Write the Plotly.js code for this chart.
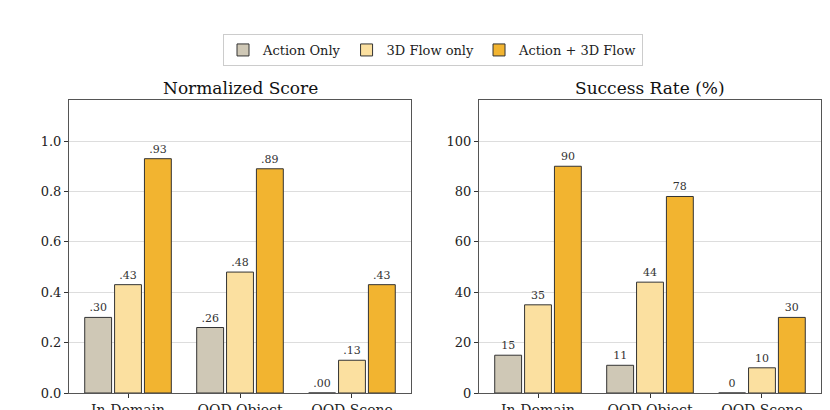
<!DOCTYPE html>
<html>
<head>
<meta charset="utf-8">
<script src="https://cdn.plot.ly/plotly-3.0.1.min.js"></script>
<style>html,body{margin:0;padding:0;background:#fff;}#chart{width:830px;height:410px;}</style>
</head>
<body>
<div id="chart"></div>
<script>
// Evaluation settings
const categories = ["In-Domain", "OOD Object", "OOD Scene"];
const seriesNames = ["Action Only", "3D Flow only", "Action + 3D Flow"];

// Normalized score per setting
const scoreActionOnly = [0.30, 0.26, 0.00];
const scoreFlowOnly = [0.43, 0.48, 0.13];
const scoreActionFlow = [0.93, 0.89, 0.43];

// Success rate (%) per setting
const successActionOnly = [15, 11, 0];
const successFlowOnly = [35, 44, 10];
const successActionFlow = [90, 78, 30];

const scoreTicks = [0.0, 0.2, 0.4, 0.6, 0.8, 1.0];
const successTicks = [0, 20, 40, 60, 80, 100];

const colors = ["#cfc8b6", "#fbe0a0", "#f2b430"];
const FONT = "DejaVu Serif, serif";

const fmtScore = v => v.toFixed(2).replace(/^0/, "");
const fmtPct = v => String(Math.round(v));

function barTrace(name, values, idx, axis, fmt, showLegend) {
  return {
    type: "bar",
    name: name,
    x: categories,
    y: values,
    xaxis: axis === 1 ? "x" : "x2",
    yaxis: axis === 1 ? "y" : "y2",
    marker: { color: colors[idx], line: { color: "#333333", width: 1 } },
    text: values.map(fmt),
    textposition: "outside",
    textfont: { family: FONT, size: 11, color: "#333333" },
    cliponaxis: false,
    showlegend: showLegend,
    legendgroup: name,
    hoverinfo: "skip"
  };
}

const data = [
  barTrace(seriesNames[0], scoreActionOnly, 0, 1, fmtScore, true),
  barTrace(seriesNames[1], scoreFlowOnly, 1, 1, fmtScore, true),
  barTrace(seriesNames[2], scoreActionFlow, 2, 1, fmtScore, true),
  barTrace(seriesNames[0], successActionOnly, 0, 2, fmtPct, false),
  barTrace(seriesNames[1], successFlowOnly, 1, 2, fmtPct, false),
  barTrace(seriesNames[2], successActionFlow, 2, 2, fmtPct, false)
];

const W = 830, H = 410;
const px = v => v / W;
const py = v => 1 - v / H;

function xAxis(domain, anchor) {
  return {
    domain: domain, anchor: anchor,
    type: "category",
    range: [-0.527, 2.527],
    showgrid: false,
    showline: true, mirror: true, linecolor: "#555555", linewidth: 1,
    ticks: "outside", ticklen: 4, tickcolor: "#333333",
    tickfont: { family: FONT, size: 14, color: "#222222" },
    zeroline: false, fixedrange: true
  };
}
function yAxis(domain, anchor, ticks, range, fmt) {
  return {
    domain: domain, anchor: anchor,
    range: range,
    tickvals: ticks,
    ticktext: ticks.map(fmt),
    showgrid: true, gridcolor: "#dddddd", gridwidth: 1,
    showline: true, mirror: true, linecolor: "#555555", linewidth: 1,
    ticks: "outside", ticklen: 4, tickcolor: "#333333",
    tickfont: { family: FONT, size: 13, color: "#222222" },
    zeroline: false, fixedrange: true
  };
}

const yDom = [py(393), py(100)];

const layout = {
  width: W, height: H,
  margin: { l: 0, r: 0, t: 0, b: 0 },
  paper_bgcolor: "#ffffff",
  plot_bgcolor: "#ffffff",
  barmode: "group",
  bargap: 0.2,
  bargroupgap: 0.1,
  font: { family: FONT, color: "#222222" },
  xaxis: xAxis([px(69), px(411)], "y"),
  yaxis: yAxis(yDom, "x", scoreTicks, [0, 1.163], v => v.toFixed(1)),
  xaxis2: xAxis([px(479), px(821)], "y2"),
  yaxis2: yAxis(yDom, "x2", successTicks, [0, 116.3], v => String(v)),
  legend: {
    orientation: "h",
    x: px(433), xanchor: "center",
    y: py(50), yanchor: "middle",
    bordercolor: "#cccccc", borderwidth: 1,
    bgcolor: "#ffffff",
    font: { family: FONT, size: 13, color: "#222222" },
    itemclick: false, itemdoubleclick: false
  },
  annotations: [
    { text: "Normalized Score", xref: "paper", yref: "paper", x: px(240), y: py(88),
      xanchor: "center", yanchor: "middle", showarrow: false,
      font: { family: FONT, size: 17, color: "#111111" } },
    { text: "Success Rate (%)", xref: "paper", yref: "paper", x: px(650), y: py(88),
      xanchor: "center", yanchor: "middle", showarrow: false,
      font: { family: FONT, size: 17, color: "#111111" } }
  ]
};

Plotly.newPlot("chart", data, layout, { staticPlot: true, displayModeBar: false });
</script>
</body>
</html>
